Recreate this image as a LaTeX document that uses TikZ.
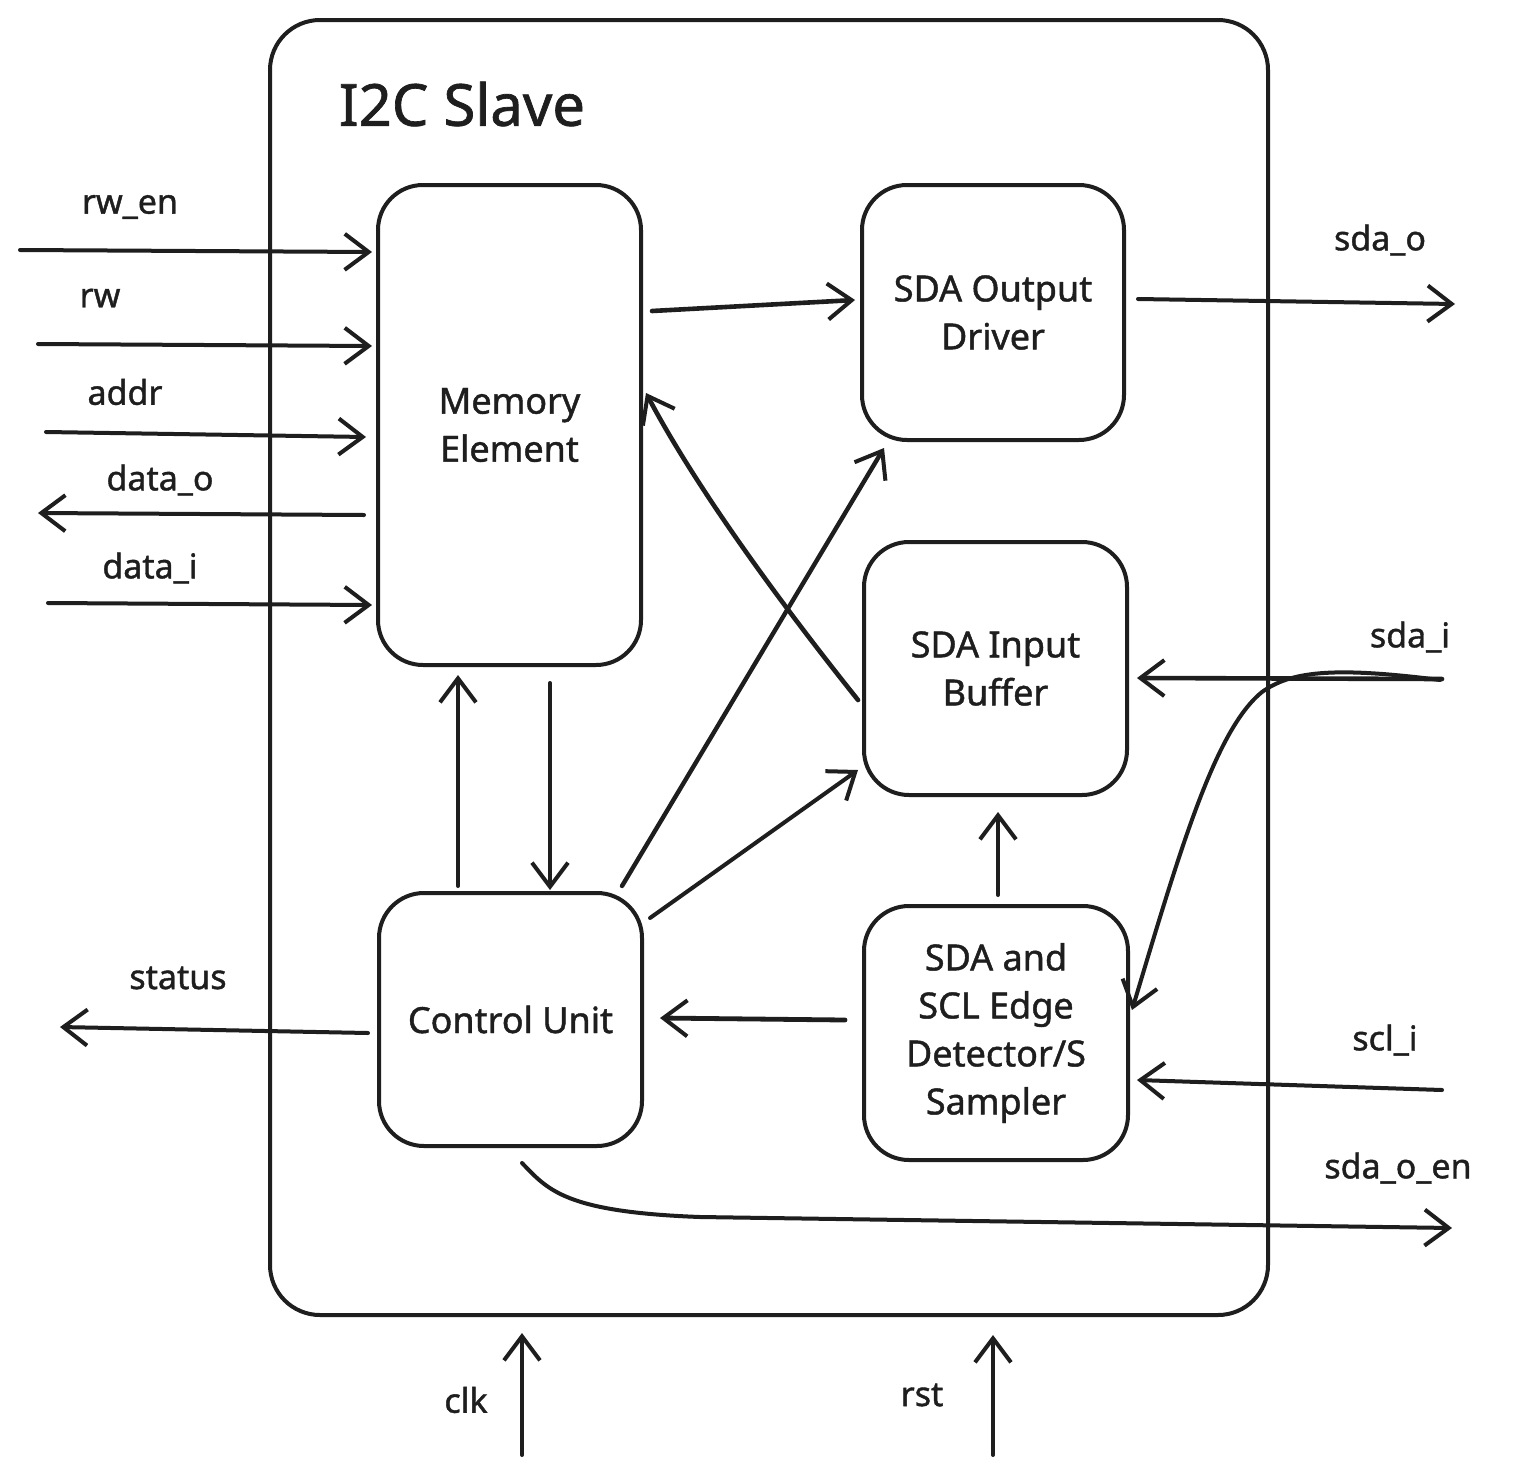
\documentclass[tikz,border=0pt]{standalone}
\usepackage{fontspec}
\setmainfont{Noto Sans}[FakeBold=1.2]
\usetikzlibrary{arrows.meta}
\tikzset{
  box/.style={draw=ink, line width=4pt, rounded corners=45pt, align=center,
    font=\fontsize{36}{48}\selectfont, text=ink, inner sep=0pt},
  lbl/.style={font=\fontsize{34}{40}\selectfont, text=ink, inner sep=0pt},
  arr/.style={draw=ink, line width=4pt, line cap=round,
    -{Straight Barb[length=24pt,width=36pt,line width=4pt]}},
}
\definecolor{ink}{HTML}{1E1E1E}
\begin{document}
\begin{tikzpicture}[x=1pt,y=-1pt]
\useasboundingbox[fill=white] (0,0) rectangle (1513,1475);
% container
\node[box, rounded corners=50pt, minimum width=998pt, minimum height=1295pt] (slave) at (769,667.5) {};
\node[font=\fontsize{58}{64}\selectfont, text=ink, inner sep=0pt] (title) at (462,104) {I2C Slave};
% blocks
\node[box, minimum width=263pt, minimum height=480pt] (mem) at (509.5,425) {Memory\\Element};
\node[box, minimum width=262pt, minimum height=255pt] (sdo) at (993,312.5) {SDA Output\\Driver};
\node[box, minimum width=263pt, minimum height=253pt] (sdi) at (995.5,668.5) {SDA Input\\Buffer};
\node[box, minimum width=263pt, minimum height=253pt] (cu) at (510.5,1019.5) {Control Unit};
\node[box, minimum width=264pt, minimum height=254pt] (edg) at (996,1033) {SDA and\\SCL Edge\\Detector/S\\Sampler};
% labels
\node[lbl] (lrwen) at (130,207) {rw\_en};
\node[lbl] (lrw) at (100,298) {rw};
\node[lbl] (laddr) at (125,392) {addr};
\node[lbl] (ldatao) at (160,480) {data\_o};
\node[lbl] (ldatai) at (150,568) {data\_i};
\node[lbl] (lstatus) at (178,978) {status};
\node[lbl] (lsdao) at (1380,240) {sda\_o};
\node[lbl] (lsdai) at (1410,637) {sda\_i};
\node[lbl] (lscli) at (1385,1040) {scl\_i};
\node[lbl] (lsdaoen) at (1398,1168) {sda\_o\_en};
\node[lbl] (lclk) at (466,1400) {clk};
\node[lbl] (lrst) at (922,1395) {rst};
% end points
\coordinate (rwenS) at (20,250);   \coordinate (rwenE) at (372,252);
\coordinate (rwS) at (38,344);     \coordinate (rwE) at (372,346);
\coordinate (addrS) at (46,432);   \coordinate (addrE) at (366,437);
\coordinate (dataoS) at (364,515); \coordinate (dataoE) at (38,513);
\coordinate (dataiS) at (48,603);  \coordinate (dataiE) at (372,605);
\coordinate (m2oS) at (652,311);   \coordinate (m2oE) at (855,300);
\coordinate (sdaoS) at (1138,299); \coordinate (sdaoE) at (1455,304);
\coordinate (sdaiS) at (1442,679); \coordinate (sdaiE) at (1137,678);
\coordinate (sdaiC) at (1440,680); \coordinate (sdaiCE) at (1132,1010);
\coordinate (scliS) at (1442,1090);\coordinate (scliE) at (1137,1080);
\coordinate (e2cS) at (845,1020);  \coordinate (e2cE) at (660,1018);
\coordinate (e2iS) at (998,895);   \coordinate (e2iE) at (998,812);
\coordinate (c2mS) at (458,886);   \coordinate (c2mE) at (458,675);
\coordinate (m2cS) at (550,683);   \coordinate (m2cE) at (550,890);
\coordinate (c2oS) at (622,886);   \coordinate (c2oE) at (884,448);
\coordinate (c2iS) at (650,918);   \coordinate (c2iE) at (858,770);
\coordinate (i2mS) at (858,700);   \coordinate (i2mE) at (646,393);
\coordinate (statS) at (368,1033); \coordinate (statE) at (60,1027);
\coordinate (enS) at (522,1163);   \coordinate (enE) at (1452,1228);
\coordinate (clkS) at (522,1455);  \coordinate (clkE) at (522,1333);
\coordinate (rstS) at (993,1455);  \coordinate (rstE) at (993,1335);
% connectors
\draw[arr] (rwenS) -- (rwenE);
\draw[arr] (rwS) -- (rwE);
\draw[arr] (addrS) -- (addrE);
\draw[arr] (dataoS) -- (dataoE);
\draw[arr] (dataiS) -- (dataiE);
\draw[arr, line width=4.6pt] (m2oS) -- (m2oE);
\draw[arr] (sdaoS) -- (sdaoE);
\draw[arr, line width=4.6pt] (sdaiS) -- (sdaiE);
\draw[arr] (sdaiC) .. controls (1330,666) and (1290,672) .. (1262,692)
  .. controls (1215,730) and (1180,850) .. (sdaiCE);
\draw[arr] (scliS) -- (scliE);
\draw[arr, line width=4.8pt] (e2cS) -- (e2cE);
\draw[arr] (e2iS) -- (e2iE);
\draw[arr] (c2mS) -- (c2mE);
\draw[arr] (m2cS) -- (m2cE);
\draw[arr, line width=4.4pt] (c2oS) -- (c2oE);
\draw[arr] (c2iS) -- (c2iE);
\draw[arr, line width=4.6pt] (i2mS) .. controls (790,615) and (700,495) .. (i2mE);
\draw[arr] (statS) -- (statE);
\draw[arr] (enS) .. controls (548,1190) and (565,1212) .. (700,1217) -- (enE);
\draw[arr] (clkS) -- (clkE);
\draw[arr] (rstS) -- (rstE);
\end{tikzpicture}
\end{document}
